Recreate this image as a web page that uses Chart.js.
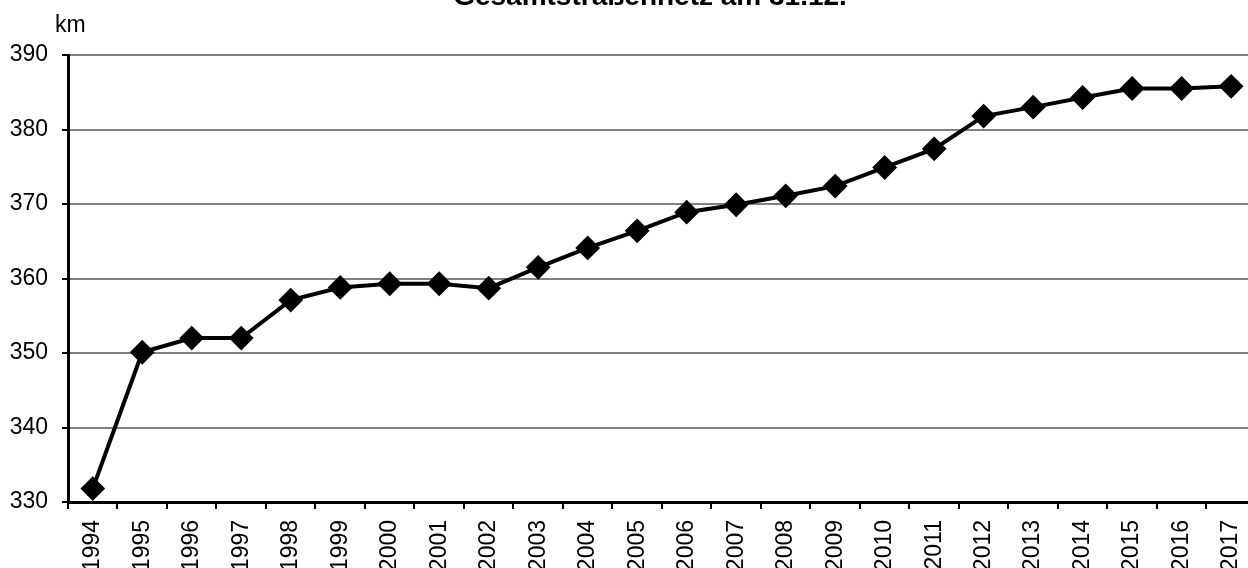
<!DOCTYPE html>
<html>
<head>
<meta charset="utf-8">
<script src="https://cdn.jsdelivr.net/npm/chart.js"></script>
<style>
  html, body { margin: 0; padding: 0; background: #fff; overflow: hidden; }
  #wrap { position: relative; width: 1248px; height: 568px; overflow: hidden; }
  #box { position: absolute; left: 0; top: -14px; width: 1270px; height: 590px; }
</style>
</head>
<body>
<div id="wrap"><div id="box"><canvas id="roadChart" width="1270" height="590"></canvas></div></div>
<script>
const years = ['1994','1995','1996','1997','1998','1999','2000','2001','2002','2003','2004','2005',
               '2006','2007','2008','2009','2010','2011','2012','2013','2014','2015','2016','2017'];
const netKm = [331.8, 350.1, 352.0, 352.0, 357.1, 358.8, 359.3, 359.3, 358.7, 361.5, 364.1, 366.4,
               368.9, 369.9, 371.1, 372.4, 374.9, 377.4, 381.8, 383.0, 384.3, 385.5, 385.5, 385.8];
const titleText = 'Gesamtstraßennetz am 31.12.';
const unitText = 'km';

const fontFam = 'Arial, "Liberation Sans", sans-serif';

// title and unit label drawn by hand, like the original sheet
const labels = {
  id: 'labels',
  afterDraw(chart) {
    const ctx = chart.ctx;
    ctx.save();
    ctx.fillStyle = '#000';
    ctx.font = 'bold 28px ' + fontFam;
    ctx.textAlign = 'center';
    ctx.textBaseline = 'alphabetic';
    ctx.fillText(titleText, 650, 19);
    ctx.font = '23px ' + fontFam;
    ctx.textAlign = 'left';
    ctx.fillText(unitText, 55, 46);
    ctx.restore();
  }
};

new Chart(document.getElementById('roadChart').getContext('2d'), {
  type: 'line',
  data: {
    labels: years,
    datasets: [{
      data: netKm,
      borderColor: '#000',
      borderWidth: 4,
      pointStyle: 'rectRot',
      pointRadius: 11,
      pointBackgroundColor: '#000',
      pointBorderColor: '#000',
      pointBorderWidth: 2,
      tension: 0
    }]
  },
  options: {
    responsive: false,
    animation: false,
    layout: { padding: { left: 0, right: 8, top: 69, bottom: 0 } },
    scales: {
      x: {
        offset: true,
        grid: { offset: true, drawOnChartArea: false, drawTicks: true, tickLength: 7, tickColor: '#000', lineWidth: 2 },
        border: { display: true, color: '#000', width: 3 },
        ticks: { color: '#000', font: { family: fontFam, size: 23 }, maxRotation: 90, minRotation: 90, padding: 11, autoSkip: false },
        afterFit(s) { s.height = 74; }
      },
      y: {
        min: 330,
        max: 390,
        grid: { color: '#808080', lineWidth: 2, drawTicks: true, tickLength: 6, tickColor: '#000' },
        border: { display: true, color: '#000', width: 3 },
        ticks: { stepSize: 10, color: '#000', font: { family: fontFam, size: 23 }, padding: 14 },
        afterFit(s) { s.width = 68; }
      }
    },
    plugins: {
      legend: { display: false },
      tooltip: { enabled: false },
      title: { display: false }
    }
  },
  plugins: [labels]
});
</script>
</body>
</html>
